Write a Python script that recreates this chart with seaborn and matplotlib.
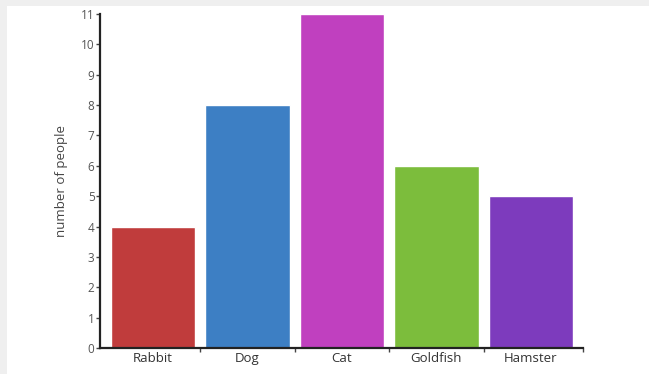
import matplotlib
matplotlib.use('Agg')
import matplotlib.pyplot as plt
import matplotlib.patches as patches
import seaborn as sns
import pandas as pd

# data
pets = ["Rabbit", "Dog", "Cat", "Goldfish", "Hamster"]
people = [4, 8, 11, 6, 5]
colors = ["#c03c3c", "#3d7fc4", "#c040bf", "#7cbd3c", "#7d3bbd"]
y_ticks = list(range(0, 12))

sns.set_style("white")
plt.rcParams['font.family'] = ['Open Sans', 'DejaVu Sans']

W, H = 649, 374
fig = plt.figure(figsize=(W / 100, H / 100), dpi=100, facecolor="#efefef")
# white page area inside the grey frame (top and left strips stay grey)
fig.patches.append(patches.Rectangle((7 / W, 0), 1, (H - 6) / H,
                                     transform=fig.transFigure, facecolor="white",
                                     edgecolor="none", zorder=-10))

ax = fig.add_axes([100 / W, (H - 348) / H, (583 - 100) / W, (348 - 14) / H])
ax.set_facecolor("none")

df = pd.DataFrame({"pet": pets, "people": people})
sns.barplot(data=df, x="pet", y="people", hue="pet", palette=colors,
            width=0.89, legend=False, saturation=1, ax=ax)

# bar centres sit a little right of the evenly split axis
x_lo, x_hi = -0.56, len(pets) - 0.45
ax.set_xlim(x_lo, x_hi)
ax.set_ylim(0, 11)
ax.set_yticks(y_ticks)
ax.set_xlabel("")
ax.set_ylabel("number of people", fontsize=9.5, color="#444444")
ax.yaxis.set_label_coords(-0.066, 0.5)

for s in ["top", "right"]:
    ax.spines[s].set_visible(False)
for s in ["left", "bottom"]:
    ax.spines[s].set_color("#222222")
    ax.spines[s].set_linewidth(1.6)

ax.tick_params(axis="y", direction="out", length=3, width=1, color="#444444",
               labelsize=8.5, labelcolor="#555555", pad=1, left=True)
ax.tick_params(axis="x", which="major", length=0, labelsize=9.5,
               labelcolor="#333333", pad=3)
ax.set_xticks([i + 0.5 for i in range(len(pets) - 1)] + [x_hi], minor=True)
ax.tick_params(axis="x", which="minor", direction="out", length=3, width=1,
               color="#444444", bottom=True)

fig.savefig("out.png", dpi=100, facecolor=fig.get_facecolor())
